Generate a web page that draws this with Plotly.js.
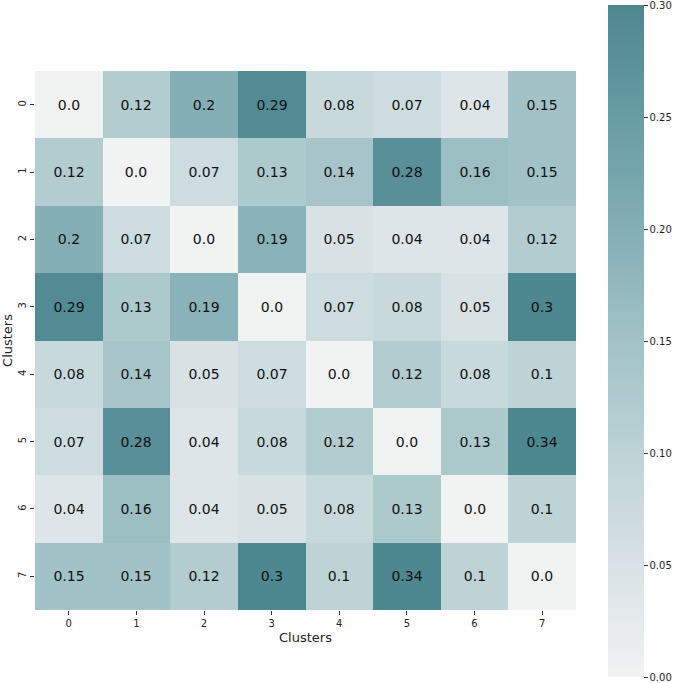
<!DOCTYPE html>
<html>
<head>
<meta charset="utf-8">
<script src="https://cdn.plot.ly/plotly-3.0.1.min.js"></script>
<style>html,body{margin:0;padding:0;background:#fff;}#chart{width:674px;height:683px;}</style>
</head>
<body>
<div id="chart"></div>
<script>
// Pairwise distances between clusters
const clusters = ["0", "1", "2", "3", "4", "5", "6", "7"];
const row0 = [0.0, 0.12, 0.2, 0.29, 0.08, 0.07, 0.04, 0.15];
const row1 = [0.12, 0.0, 0.07, 0.13, 0.14, 0.28, 0.16, 0.15];
const row2 = [0.2, 0.07, 0.0, 0.19, 0.05, 0.04, 0.04, 0.12];
const row3 = [0.29, 0.13, 0.19, 0.0, 0.07, 0.08, 0.05, 0.3];
const row4 = [0.08, 0.14, 0.05, 0.07, 0.0, 0.12, 0.08, 0.1];
const row5 = [0.07, 0.28, 0.04, 0.08, 0.12, 0.0, 0.13, 0.34];
const row6 = [0.04, 0.16, 0.04, 0.05, 0.08, 0.13, 0.0, 0.1];
const row7 = [0.15, 0.15, 0.12, 0.3, 0.1, 0.34, 0.1, 0.0];
const colorTicks = [0, 0.05, 0.1, 0.15, 0.2, 0.25, 0.3];

const z = [row0, row1, row2, row3, row4, row5, row6, row7];
const fmt = v => (Number.isInteger(v) ? v.toFixed(1) : String(v));
const labels = z.map(r => r.map(fmt));

const font = "DejaVu Sans, sans-serif";

// plot area spans 71..610 px vertically; colorbar centred at 341 px, 672 px tall
const plotTop = 71, plotBottom = 610;

const trace = {
  type: "heatmap",
  z: z,
  x: clusters,
  y: clusters,
  text: labels,
  texttemplate: "%{text}",
  textfont: {family: font, size: 14, color: "#111"},
  zmin: 0,
  zmax: 0.3,
  colorscale: [
    [0, "#f1f2f2"],
    [0.15, "#dbe3e7"],
    [0.333, "#bdd3d6"],
    [0.5, "#a1c2c6"],
    [0.667, "#83afb5"],
    [0.833, "#689ca3"],
    [1, "#4d8790"]
  ],
  hoverinfo: "skip",
  colorbar: {
    thickness: 36,
    thicknessmode: "pixels",
    len: 672,
    lenmode: "pixels",
    xref: "container",
    x: 608 / 674,
    xanchor: "left",
    y: (plotBottom - 341) / (plotBottom - plotTop),
    yanchor: "middle",
    xpad: 0,
    ypad: 0,
    outlinewidth: 0,
    ticks: "outside",
    ticklen: 4,
    tickwidth: 1,
    tickcolor: "#333",
    tickvals: colorTicks,
    tickformat: ".2f",
    ticklabeloverflow: "allow",
    tickfont: {family: font, size: 10, color: "#222"}
  }
};

const layout = {
  width: 674,
  height: 683,
  margin: {l: 35, r: 98, t: plotTop, b: 683 - plotBottom},
  paper_bgcolor: "#fff",
  plot_bgcolor: "#fff",
  xaxis: {
    type: "category",
    showgrid: false,
    zeroline: false,
    ticks: "outside",
    ticklen: 4,
    tickcolor: "#333",
    tickfont: {family: font, size: 10, color: "#222"},
    title: {text: "Clusters", font: {family: font, size: 13, color: "#222"}, standoff: 4}
  },
  yaxis: {
    type: "category",
    autorange: "reversed",
    showgrid: false,
    zeroline: false,
    ticks: "outside",
    ticklen: 4,
    tickcolor: "#333",
    tickangle: -90,
    tickfont: {family: font, size: 10, color: "#222"},
    title: {text: "Clusters", font: {family: font, size: 13, color: "#222"}, standoff: 4}
  }
};

Plotly.newPlot("chart", [trace], layout, {displayModeBar: false, staticPlot: true});
</script>
</body>
</html>
